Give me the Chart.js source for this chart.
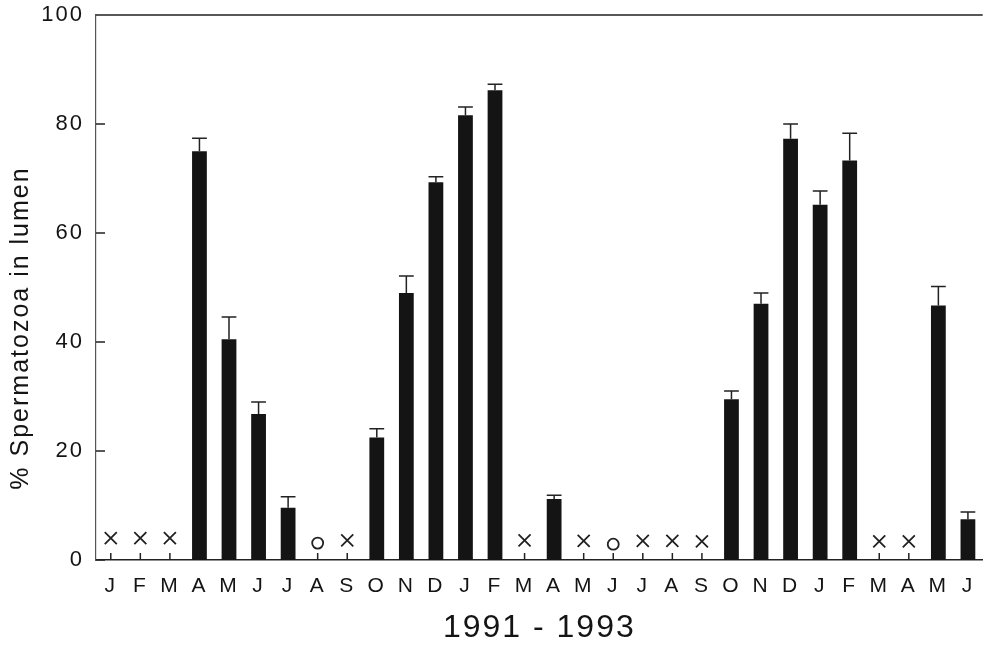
<html>
  <head>
    <title>Spermatozoa in lumen 1991-1993</title>
    <script src="https://cdn.jsdelivr.net/npm/chart.js"></script>
    <style type="text/css">
      html, body { width: 100%; height: 100%; margin: 0; padding: 0; background: #fff; }
      #wrap { width: 993px; height: 649px; }
    </style>
  </head>
  <body>
    <div id="wrap"><canvas id="barChart"></canvas></div>
    <script>
      // months Jan 1991 .. Jun 1993
      var months = ['J','F','M','A','M','J','J','A','S','O','N','D',
                    'J','F','M','A','M','J','J','A','S','O','N','D',
                    'J','F','M','A','M','J'];
      // mean % spermatozoa in lumen (null = no bar)
      var spermPercent = [null, null, null, 75, 40.5, 26.8, 9.6, null, null, 22.5, 49, 69.3,
                          81.6, 86.2, null, 11.2, null, null, null, null, null, 29.5, 47, 77.3,
                          65.2, 73.3, null, null, 46.7, 7.5];
      // upper error (SE)
      var spermError = [0, 0, 0, 2.4, 4.1, 2.2, 2.0, 0, 0, 1.6, 3.1, 1.0,
                        1.5, 1.1, 0, 0.7, 0, 0, 0, 0, 0, 1.5, 2.0, 2.7,
                        2.5, 5.0, 0, 0, 3.5, 1.3];
      // months marked with "x" and "o"
      var crossMarks = [4, 4, 4, null, null, null, null, null, 3.6, null, null, null,
                        null, null, 3.6, null, 3.5, null, 3.5, 3.5, 3.4, null, null, null,
                        null, null, 3.4, 3.4, null, null];
      var circleMarks = [null, null, null, null, null, null, null, 3.1, null, null, null, null,
                         null, null, null, null, null, 2.9, null, null, null, null, null, null,
                         null, null, null, null, null, null];
      var yTicks = [0, 20, 40, 60, 80, 100];
      var yTitle = '% Spermatozoa in lumen';

      var ink = '#141414';
      var fontFam = '"Liberation Sans", Arial, sans-serif';

      // the printed lettering is spaced out a little
      var spacingPlugin = {
        id: 'spacing',
        beforeUpdate: function(chart) { chart.ctx.letterSpacing = '2px'; },
        beforeDraw: function(chart) { chart.ctx.letterSpacing = '2px'; }
      };

      // inward ticks and top frame line
      var framePlugin = {
        id: 'frame',
        beforeDatasetsDraw: function(chart) {
          var ctx = chart.ctx, a = chart.chartArea;
          var x = chart.scales.x, y = chart.scales.y;
          ctx.save();
          ctx.strokeStyle = '#222';
          ctx.lineWidth = 1.5;
          ctx.beginPath();
          ctx.moveTo(a.left, a.top);
          ctx.lineTo(a.right, a.top);
          yTicks.forEach(function(v) {
            var py = y.getPixelForValue(v);
            ctx.moveTo(a.left, py);
            ctx.lineTo(a.left + 9, py);
          });
          months.forEach(function(m, i) {
            var px = x.getPixelForValue(i);
            ctx.moveTo(px, a.bottom);
            ctx.lineTo(px, a.bottom - 7);
          });
          ctx.stroke();
          ctx.restore();
        },
        // y title sits a bit below the middle of the axis in the print
        afterDraw: function(chart) {
          var ctx = chart.ctx;
          ctx.save();
          ctx.translate(21, 328);
          ctx.rotate(-Math.PI / 2);
          ctx.font = '25px ' + fontFam;
          ctx.letterSpacing = '2px';
          ctx.fillStyle = ink;
          ctx.textAlign = 'center';
          ctx.textBaseline = 'middle';
          ctx.fillText(yTitle, 0, 0);
          ctx.restore();
        }
      };

      // upper error bars with caps
      var errorBarPlugin = {
        id: 'errorBars',
        afterDatasetsDraw: function(chart) {
          var ctx = chart.ctx;
          var meta = chart.getDatasetMeta(0);
          var y = chart.scales.y;
          ctx.save();
          ctx.strokeStyle = '#222';
          ctx.lineWidth = 1.5;
          spermPercent.forEach(function(v, i) {
            if (v === null) return;
            var bar = meta.data[i];
            var half = bar.width / 2;
            var top = y.getPixelForValue(v + spermError[i]);
            ctx.beginPath();
            ctx.moveTo(bar.x, y.getPixelForValue(v));
            ctx.lineTo(bar.x, top);
            ctx.moveTo(bar.x - half, top);
            ctx.lineTo(bar.x + half, top);
            ctx.stroke();
          });
          ctx.restore();
        }
      };

      var ctx = document.getElementById('barChart').getContext('2d');
      var chart = new Chart(ctx, {
        type: 'bar',
        data: {
          labels: months,
          datasets: [{
            data: spermPercent,
            backgroundColor: ink,
            borderWidth: 0,
            barPercentage: 0.5,
            categoryPercentage: 1
          }, {
            type: 'line',
            data: crossMarks,
            showLine: false,
            pointStyle: 'crossRot',
            pointRadius: 8.5,
            pointBorderWidth: 1.8,
            pointBorderColor: '#222'
          }, {
            type: 'line',
            data: circleMarks,
            showLine: false,
            pointStyle: 'circle',
            pointRadius: 5.5,
            pointBorderWidth: 1.8,
            pointBorderColor: '#222',
            pointBackgroundColor: '#fff'
          }]
        },
        options: {
          responsive: true,
          maintainAspectRatio: false,
          animation: false,
          layout: { padding: { top: 15, right: 0, left: 0, bottom: 0 } },
          plugins: { legend: { display: false }, tooltip: { enabled: false } },
          scales: {
            x: {
              offset: true,
              grid: { display: false, drawTicks: false },
              border: { display: true, color: '#222', width: 1.5 },
              ticks: { color: ink, font: { family: fontFam, size: 21 }, padding: 14, maxRotation: 0, autoSkip: false },
              title: {
                display: true,
                text: '1991 - 1993',
                color: ink,
                font: { family: fontFam, size: 32 },
                padding: { top: 0, bottom: 2 }
              },
              afterFit: function(scale) { scale.height = 89; }
            },
            y: {
              min: 0,
              max: 100,
              grid: { display: false, drawTicks: false },
              border: { display: true, color: '#555', width: 1.2 },
              ticks: { stepSize: 20, color: ink, font: { family: fontFam, size: 22 }, padding: 12 },
              title: { display: false },
              afterFit: function(scale) {
                scale.width = 96;
                scale.paddingTop = 0;
                scale.paddingBottom = 0;
              }
            }
          }
        },
        plugins: [spacingPlugin, framePlugin, errorBarPlugin]
      });
    </script>
  </body>
</html>
